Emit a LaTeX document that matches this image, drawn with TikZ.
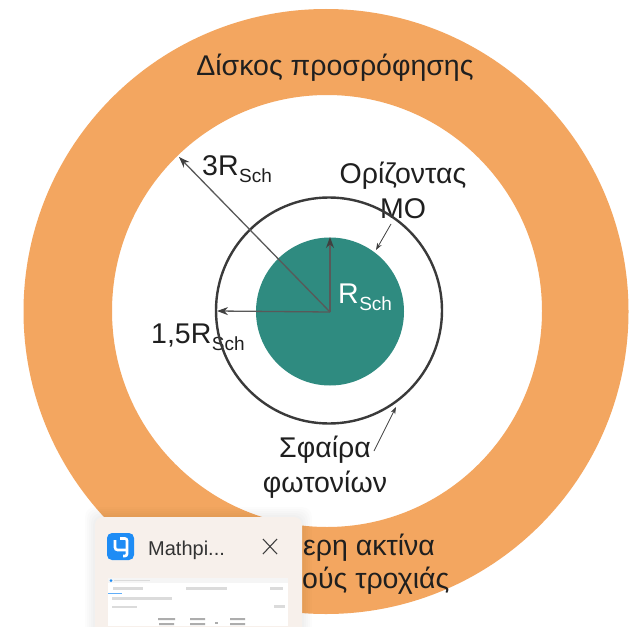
\documentclass[tikz,border=0pt]{standalone}
\usepackage{fontspec}
\setmainfont{Liberation Sans}
\usetikzlibrary{arrows.meta}
\definecolor{disk}{HTML}{F3A660}
\definecolor{bh}{HTML}{2F8B80}
\definecolor{ringc}{HTML}{3A3A3A}
\definecolor{popup}{HTML}{F7F0EB}
\definecolor{mathpix}{HTML}{1E8CF5}
\newcommand{\Rs}{R\kern0.5pt\raisebox{-0.26em}{\fontsize{19}{21}\selectfont Sch}}
\tikzset{
  x=1pt,y=-1pt,
  lbl/.style={font=\fontsize{28.5}{34.5}\selectfont,text=black!88,inner sep=0pt,align=center},
  lblsm/.style={font=\fontsize{28.5}{30}\selectfont,text=black!88,inner sep=0pt},
  radius arrow/.style={draw=black!65,line width=1.3pt,-{Stealth[length=11pt,width=8pt,black!75]}},
  thin arrow/.style={draw=black!75,line width=0.8pt,-{Stealth[length=7pt,width=5pt]}},
  tinybar/.style={fill=black!14,draw=none},
  tinymark/.style={fill=black!32,draw=none}
}
\begin{document}
\begin{tikzpicture}
\useasboundingbox (0,0) rectangle (634,626);
\fill[white] (0,0) rectangle (634,626);
\coordinate (c) at (330,312);
\fill[disk,even odd rule] (326,311.5) circle[radius=302.5] (327,311) ellipse[x radius=215,y radius=216];
\fill[bh] (330,311.5) circle[radius=74];
\node[lbl,anchor=base] (disc) at (335,75) {Δίσκος προσρόφησης};
\node[lblsm,anchor=base west] (r3) at (202,175) {3\Rs};
\node[lblsm,anchor=base west] (r15) at (151,343) {1,5\Rs};
\node[lblsm,anchor=base west,text=white] (r1) at (338,303) {\Rs};
\node[lbl,anchor=base] (hor) at (403,218) {Ορίζοντας\\ΜΟ};
\node[lbl,anchor=base] (ph) at (325,492) {Σφαίρα\\φωτονίων};
\draw[ringc,line width=2.4pt] (329,310.5) circle[radius=113];
\coordinate (t3) at (179,157);
\coordinate (t15) at (217,311);
\coordinate (t1) at (330,237);
\draw[radius arrow] (c) -- (t3);
\draw[radius arrow] (c) -- (t15);
\draw[radius arrow] (c) -- (t1);
\coordinate (h1) at (391,224);
\coordinate (h2) at (376,250);
\draw[thin arrow] (h1) -- (h2);
\coordinate (p1) at (374,451);
\coordinate (p2) at (396,407);
\draw[thin arrow] (p1) -- (p2);
\node[lblsm,anchor=base west] (e1) at (303,555) {ερη ακτίνα};
\node[lblsm,anchor=base west] (e2) at (302,588) {ούς τροχιάς};
% popup shadow
\foreach \s in {10,8,6,4,2}{
  \fill[black,opacity=0.012,rounded corners=10pt] (95-\s,517-\s) rectangle (302+\s,640);
}
% popup
\fill[popup,rounded corners=8pt] (95,517) rectangle (302,640);
\fill[mathpix,rounded corners=5pt] (107,533) rectangle (134,560);
\draw[white,line width=2.6pt,rounded corners=2.5pt] (115,540) -- (115,550) -- (126,550);
\draw[white,line width=2.6pt,rounded corners=2pt] (120,538.5) -- (127,538.5) -- (127,556) -- (123,556);
\node[inner sep=0pt,anchor=base west,font=\fontsize{20}{22}\selectfont,text=black!80] (mp) at (148,555) {Mathpi...};
\coordinate (xa) at (263,539); \coordinate (xb) at (277,554);
\coordinate (xc) at (277,539); \coordinate (xd) at (263,554);
\draw[black!75,line width=1.1pt] (xa) -- (xb) (xc) -- (xd);
% miniature window
\fill[white] (108,583) rectangle (288,626);
\fill[black!4] (108,578) rectangle (288,583);
\fill[mathpix] (111,580.5) circle[radius=1.5];
\fill[tinybar] (114,580) rectangle (150,581.2);
\fill[tinybar] (113,587) rectangle (143,590);
\fill[tinybar] (186,587) rectangle (227,590);
\fill[tinybar] (270,587) rectangle (283,590);
\fill[mathpix!70] (108,592.5) rectangle (122,593.3);
\fill[tinybar] (112,597) rectangle (172,600);
\fill[tinybar] (112,606) rectangle (137,608);
\fill[tinybar] (274,605) rectangle (285,608);
\fill[tinymark] (158,618) rectangle (175,620) (159,623) rectangle (174,625);
\fill[tinymark] (190,618) rectangle (205,620) (190,623) rectangle (205,625);
\fill[tinymark] (215,622) rectangle (218,624);
\fill[tinymark] (230,618) rectangle (245,620) (230,623) rectangle (245,625);
\end{tikzpicture}
\end{document}
